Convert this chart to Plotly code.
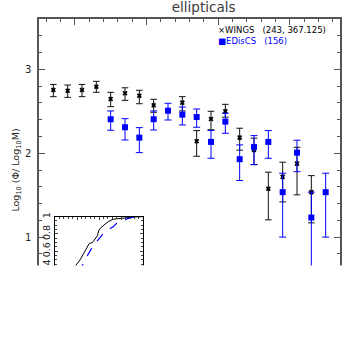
import plotly.graph_objects as go

# bin centres (log10 M)
mass_bins = [9.85, 9.95, 10.05, 10.15, 10.25, 10.35, 10.45, 10.55, 10.65, 10.75,
             10.85, 10.95, 11.05, 11.15, 11.25, 11.35, 11.45, 11.55, 11.65, 11.75]

# WINGS: value, upper and lower end of error bar
wings_y = [2.754, 2.745, 2.754, 2.793, 2.646, 2.714, 2.686, 2.571, None, 2.603,
           2.143, 2.408, 2.500, 2.186, 2.040, 1.577, 1.718, 1.876, 1.536, None]
wings_hi = [2.820, 2.813, 2.820, 2.857, 2.726, 2.780, 2.750, 2.643, None, 2.674,
            2.270, 2.500, 2.583, 2.298, 2.180, 1.774, 1.893, 2.071, 1.733, None]
wings_lo = [2.674, 2.666, 2.674, 2.726, 2.555, 2.630, 2.590, 2.488, None, 2.504,
            1.964, 2.280, 2.430, 2.036, 1.864, 1.206, 1.420, 1.504, 1.170, None]

# EDisCS
edis_y = [None, None, None, None, 2.405, 2.310, 2.186, 2.405, 2.507, 2.460,
          2.432, 2.135, 2.377, 1.929, 2.075, 2.135, 1.536, 2.007, 1.233, 1.536]
edis_hi = [None, None, None, None, 2.504, 2.412, 2.305, 2.504, 2.595, 2.551,
           2.527, 2.270, 2.476, 2.099, 2.210, 2.270, 1.762, 2.155, 1.536, 1.762]
edis_lo = [None, None, None, None, 2.274, 2.158, 2.007, 2.277, 2.396, 2.337,
           2.310, 1.940, 2.238, 1.674, 1.864, 1.940, 1.000, 1.780, 0.500, 1.000]

# cumulative distributions for the inset
cum_x_wings = [10.385, 10.476, 10.566, 10.664, 10.732, 10.778, 10.846, 10.906, 10.958,
               10.997, 11.042, 11.133, 11.208, 11.321, 11.472, 11.623, 11.774, 12.0]
cum_wings = [0.357, 0.438, 0.497, 0.593, 0.663, 0.690, 0.698, 0.737, 0.776,
             0.845, 0.872, 0.911, 0.942, 0.970, 0.981, 0.988, 0.995, 1.0]
cum_x_edis = [10.544, 10.619, 10.680, 10.754, 10.830, 10.906, 11.019, 11.094,
              11.208, 11.321, 11.397, 11.510, 11.623, 11.774, 12.0]
cum_edis = [0.357, 0.438, 0.497, 0.566, 0.632, 0.690, 0.756, 0.807,
            0.845, 0.884, 0.923, 0.950, 0.973, 0.993, 1.0]


def errs(y, hi, lo):
    plus = [None if v is None else h - v for v, h in zip(y, hi)]
    minus = [None if v is None else v - l for v, l in zip(y, lo)]
    return plus, minus


w_plus, w_minus = errs(wings_y, wings_hi, wings_lo)
e_plus, e_minus = errs(edis_y, edis_hi, edis_lo)

fig = go.Figure()
fig.add_trace(go.Scatter(
    x=mass_bins, y=wings_y, mode='markers',
    marker=dict(symbol='x', size=4.5, color='black'),
    error_y=dict(type='data', array=w_plus, arrayminus=w_minus,
                 color='#111111', thickness=1, width=3.3),
    showlegend=False))
fig.add_trace(go.Scatter(
    x=mass_bins, y=edis_y, mode='markers',
    marker=dict(symbol='square', size=6, color='#0000ff'),
    error_y=dict(type='data', array=e_plus, arrayminus=e_minus,
                 color='#0000ff', thickness=1, width=3.5),
    showlegend=False))

fig.add_trace(go.Scatter(x=cum_x_wings, y=cum_wings, mode='lines',
                         line=dict(color='black', width=1),
                         xaxis='x2', yaxis='y2', showlegend=False))
fig.add_trace(go.Scatter(x=cum_x_edis, y=cum_edis, mode='lines',
                         line=dict(color='#0000ff', width=1.2, dash='dash'),
                         xaxis='x2', yaxis='y2', showlegend=False))

axcol = '#555555'
fig.update_layout(
    width=359, height=359,
    margin=dict(l=39, r=19, t=19, b=38),
    paper_bgcolor='white', plot_bgcolor='white',
    title=dict(text='ellipticals', x=0.547, xref='paper', y=0.979, yref='container',
               xanchor='center', yanchor='middle',
               font=dict(family='DejaVu Sans', size=13.5, color='#3a3a3a')),
    xaxis=dict(range=[9.75, 11.85], showline=True, linecolor=axcol, linewidth=1.5,
               mirror='ticks', ticks='inside', ticklen=6, tickcolor=axcol,
               tick0=10, dtick=0.5, showticklabels=False, showgrid=False, zeroline=False,
               minor=dict(dtick=0.1, ticks='inside', ticklen=3, tickcolor=axcol)),
    yaxis=dict(range=[0, 3.6], showline=True, linecolor=axcol, linewidth=1.5,
               mirror='ticks', ticks='inside', ticklen=6, tickcolor=axcol,
               dtick=1, showgrid=False, zeroline=False, ticklabelstandoff=4,
               tickfont=dict(family='DejaVu Sans', size=10, color='#222222'),
               minor=dict(dtick=0.2, ticks='inside', ticklen=3, tickcolor=axcol),
               title=dict(text='Log<sub>10</sub> (Φ/ Log<sub>10</sub>M)', standoff=4,
                          font=dict(family='DejaVu Sans', size=9.5, color='#222222'))),
    xaxis2=dict(domain=[0.0532, 0.3465], anchor='y2', range=[10, 12],
                showline=True, linecolor='black', linewidth=1, mirror='ticks',
                ticks='inside', ticklen=3, dtick=0.5, showticklabels=False,
                showgrid=False, zeroline=False,
                minor=dict(dtick=0.1, ticks='inside', ticklen=2)),
    yaxis2=dict(domain=[0.06, 0.3457], anchor='x2', range=[0, 1],
                showline=True, linecolor='black', linewidth=1, mirror='ticks',
                ticks='inside', ticklen=3, dtick=0.2, tickangle=-90,
                showgrid=False, zeroline=False,
                tickfont=dict(family='DejaVu Sans', size=9.5, color='#222222'),
                minor=dict(dtick=0.05, ticks='inside', ticklen=2)),
    annotations=[
        dict(text='×WINGS\u00a0\u00a0\u00a0(243,\u00a0367.125)', x=0.589, y=0.962,
             xref='paper', yref='paper', xanchor='left', yanchor='middle', showarrow=False,
             font=dict(family='DejaVu Sans', size=8.5, color='black')),
        dict(text='■EDisCS\u00a0\u00a0\u00a0(156)', x=0.589, y=0.926,
             xref='paper', yref='paper', xanchor='left', yanchor='middle', showarrow=False,
             font=dict(family='DejaVu Sans', size=8.5, color='#0000ff')),
    ],
    # lower part of the figure is blanked out in the reference
    shapes=[dict(type='rect', xref='paper', yref='paper', x0=-0.2, x1=1.2,
                 y0=-0.2, y1=0.184, fillcolor='white', line=dict(width=0), layer='above')],
)

# drop the page's default body margin so the figure sits at the window corner
fig.write_html("out.html", config={'displayModeBar': False},
               post_script="document.body.style.margin='0';")
